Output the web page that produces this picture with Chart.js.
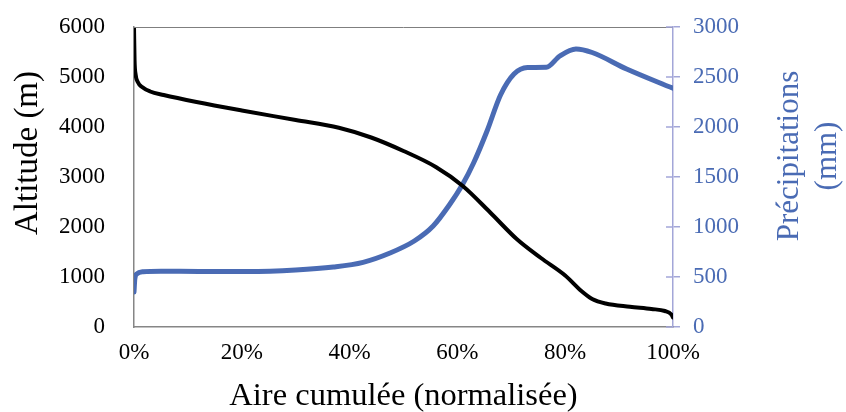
<!DOCTYPE html>
<html>
<head>
<meta charset="utf-8">
<script src="https://cdn.jsdelivr.net/npm/chart.js@4/dist/chart.umd.min.js"></script>
<style>
  html, body { margin: 0; padding: 0; background: #fff; }
  #wrap { width: 846px; height: 412px; }
</style>
</head>
<body>
<div id="wrap"><canvas id="chart"></canvas></div>
<script>
// Altitude curve (left axis)
const altCover = [0, 0.1, 0.3, 0.7, 1.5, 3, 5.5, 11.6, 20, 30, 38, 44, 50, 56, 61, 66, 71, 75.5, 80, 83, 85, 87.5, 92, 96, 98.5, 99.7, 100];
const altValues = [6000, 5350, 5050, 4900, 4800, 4710, 4640, 4500, 4330, 4140, 3985, 3790, 3520, 3200, 2820, 2300, 1760, 1380, 1030, 720, 560, 470, 405, 360, 320, 250, 190];

// Precipitation curve (right axis)
const precCover = [0, 0.15, 0.5, 1.7, 5, 12, 21, 30, 37, 42.5, 47.5, 52, 55.5, 58.5, 61, 63, 65.5, 68, 70.5, 73, 76.5, 79, 82, 85, 91.4, 100];
const precValues = [350, 480, 530, 553, 558, 555, 555, 570, 600, 647, 740, 860, 1010, 1220, 1430, 1640, 1960, 2320, 2530, 2595, 2597, 2710, 2780, 2745, 2580, 2387];

const xTicks = [0, 20, 40, 60, 80, 100];
const altTicks = [0, 1000, 2000, 3000, 4000, 5000, 6000];
const precTicks = [0, 500, 1000, 1500, 2000, 2500, 3000];

const serif = "'Liberation Serif', 'Times New Roman', serif";
const blue = '#4A6BB4';
const lavender = '#A3A6D8';

// frame line on top, inner half of the right ticks, rotated y titles
const framePlugin = {
  id: 'frame',
  afterDraw(chart) {
    const ctx = chart.ctx;
    const a = chart.chartArea;
    const y2 = chart.scales.y2;
    ctx.save();
    ctx.strokeStyle = '#7f7f7f';
    ctx.lineWidth = 1;
    ctx.beginPath();
    ctx.moveTo(a.left, a.top + 0.5);
    ctx.lineTo(a.right, a.top + 0.5);
    ctx.stroke();

    ctx.strokeStyle = lavender;
    ctx.lineWidth = 1.5;
    y2.ticks.forEach(t => {
      const py = y2.getPixelForValue(t.value);
      ctx.beginPath();
      ctx.moveTo(a.right - 7, py);
      ctx.lineTo(a.right, py);
      ctx.stroke();
    });

    ctx.textAlign = 'center';
    ctx.textBaseline = 'middle';

    ctx.save();
    ctx.font = '33px ' + serif;
    ctx.fillStyle = '#000';
    ctx.translate(28, 153);
    ctx.rotate(-Math.PI / 2);
    ctx.fillText('Altitude (m)', 0, 0);
    ctx.restore();

    ctx.save();
    ctx.font = '31px ' + serif;
    ctx.fillStyle = blue;
    ctx.translate(809, 156);
    ctx.rotate(-Math.PI / 2);
    ctx.fillText('Précipitations', 0, -19);
    ctx.fillText('(mm)', 0, 19);
    ctx.restore();

    ctx.restore();
  }
};

// fixed axis sizes, no extra padding for the end labels
const fixWidth = w => s => { s.width = w; s.paddingTop = 0; s.paddingBottom = 0; };

new Chart(document.getElementById('chart'), {
  type: 'line',
  data: {
    datasets: [
      {
        label: 'Altitude',
        data: altCover.map((c, i) => ({ x: c, y: altValues[i] })),
        yAxisID: 'y',
        borderColor: '#000',
        borderWidth: 4,
        pointRadius: 0,
        cubicInterpolationMode: 'monotone',
        borderCapStyle: 'round'
      },
      {
        label: 'Précipitations',
        data: precCover.map((c, i) => ({ x: c, y: precValues[i] })),
        yAxisID: 'y2',
        borderColor: blue,
        borderWidth: 5,
        pointRadius: 0,
        cubicInterpolationMode: 'monotone',
        borderCapStyle: 'round'
      }
    ]
  },
  options: {
    responsive: true,
    maintainAspectRatio: false,
    animation: false,
    layout: { padding: { top: 27, left: 0, right: 0, bottom: 0 } },
    plugins: {
      legend: { display: false },
      tooltip: { enabled: false }
    },
    scales: {
      x: {
        type: 'linear',
        min: 0,
        max: 100,
        afterFit: s => { s.height = 85; },
        afterBuildTicks: s => { s.ticks = xTicks.map(v => ({ value: v })); },
        grid: { display: false },
        border: { display: true, color: '#868686', width: 1.5 },
        ticks: {
          color: '#000',
          padding: 4,
          font: { family: serif, size: 23 },
          callback: v => v + '%'
        },
        title: {
          display: true,
          text: 'Aire cumulée (normalisée)',
          color: '#000',
          font: { family: serif, size: 32.5 },
          padding: { top: 0, bottom: -4 }
        }
      },
      y: {
        position: 'left',
        min: 0,
        max: 6000,
        afterFit: fixWidth(134),
        afterBuildTicks: s => { s.ticks = altTicks.map(v => ({ value: v })); },
        grid: { display: false },
        border: { display: true, color: '#868686', width: 1.5 },
        ticks: {
          color: '#000',
          padding: 21,
          font: { family: serif, size: 23 },
          callback: v => String(v)
        }
      },
      y2: {
        position: 'right',
        min: 0,
        max: 3000,
        afterFit: fixWidth(173),
        afterBuildTicks: s => { s.ticks = precTicks.map(v => ({ value: v })); },
        grid: { drawOnChartArea: false, drawTicks: true, tickLength: 7, color: lavender, lineWidth: 1.5 },
        border: { display: true, color: lavender, width: 1.5 },
        ticks: {
          color: blue,
          padding: 13,
          font: { family: serif, size: 23 },
          callback: v => String(v)
        }
      }
    }
  },
  plugins: [framePlugin]
});
</script>
</body>
</html>
